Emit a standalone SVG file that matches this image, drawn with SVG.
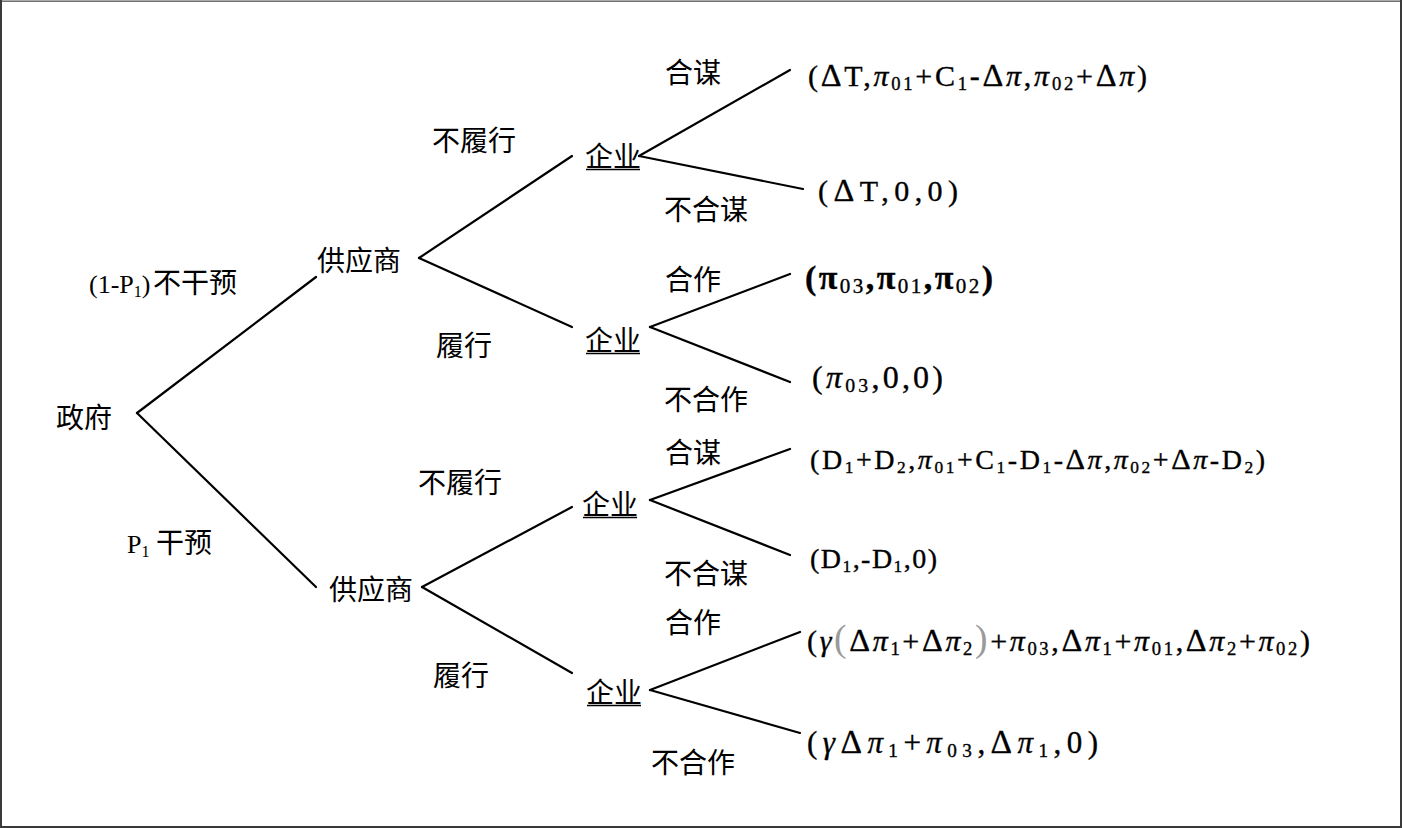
<svg xmlns="http://www.w3.org/2000/svg" width="1402" height="828" viewBox="0 0 1402 828">
<defs>
<style>
.cn{font-family:"Noto Sans CJK SC","Noto Sans CJK JP",sans-serif;font-size:28px;fill:#000}
.sr{font-family:"Liberation Serif","Times New Roman",serif;font-size:26px;fill:#000}
.pay{font-family:"Liberation Serif","Times New Roman",serif;fill:#000;stroke:#000;stroke-width:0.35}
.sb{font-size:62%;baseline-shift:-4px}
.it{font-style:italic}
.d{font-size:108%}
.edge{stroke:#000;stroke-width:2.2;stroke-linecap:round;fill:none}
.ul{stroke:#000;stroke-width:1.6}
.gp{fill:#9a9a9a;stroke:none;font-size:125%}
</style>
</defs>
<rect x="0" y="0" width="1402" height="828" fill="#fff"/>
<rect x="1" y="1" width="1400" height="826" fill="none" stroke="#3a3a3a" stroke-width="2"/>
<line x1="2" y1="0.75" x2="1400" y2="0.75" stroke="#aaa" stroke-width="1.5"/>

<g id="connectors">
<line class="edge" x1="137" y1="413" x2="316" y2="277"/>
<line class="edge" x1="137" y1="413" x2="316" y2="587"/>
<line class="edge" x1="419" y1="258" x2="572" y2="156"/>
<line class="edge" x1="419" y1="258" x2="572" y2="327"/>
<line class="edge" x1="639" y1="156" x2="790" y2="70"/>
<line class="edge" x1="639" y1="156" x2="803" y2="189"/>
<line class="edge" x1="650" y1="327" x2="790" y2="274"/>
<line class="edge" x1="650" y1="327" x2="790" y2="382"/>
<line class="edge" x1="422" y1="587" x2="572" y2="507"/>
<line class="edge" x1="422" y1="587" x2="572" y2="673"/>
<line class="edge" x1="650" y1="500" x2="790" y2="449"/>
<line class="edge" x1="650" y1="500" x2="790" y2="555"/>
<line class="edge" x1="650" y1="690" x2="800" y2="632"/>
<line class="edge" x1="650" y1="690" x2="800" y2="733"/>
</g>

<g id="edge-labels">
<text class="sr" x="89" y="293">(1-P<tspan class="sb">1</tspan>)<tspan class="cn" x="153">不干预</tspan></text>
<text class="sr" x="127" y="553">P<tspan class="sb">1</tspan><tspan class="cn" x="156">干预</tspan></text>
<text class="cn" x="432" y="151">不履行</text>
<text class="cn" x="436" y="356">履行</text>
<text class="cn" x="418" y="493">不履行</text>
<text class="cn" x="433" y="686">履行</text>
<text class="cn" x="665" y="83">合谋</text>
<text class="cn" x="664" y="220">不合谋</text>
<text class="cn" x="665" y="290">合作</text>
<text class="cn" x="664" y="410">不合作</text>
<text class="cn" x="665" y="463">合谋</text>
<text class="cn" x="664" y="584">不合谋</text>
<text class="cn" x="665" y="633">合作</text>
<text class="cn" x="651" y="773">不合作</text>
</g>

<g id="node-government"><text class="cn" x="56" y="428">政府</text></g>
<g id="node-supplier-1"><text class="cn" x="317" y="271">供应商</text></g>
<g id="node-supplier-2"><text class="cn" x="329" y="600">供应商</text></g>
<g id="node-firm-1"><text class="cn" x="585" y="167">企业</text><line class="ul" x1="586" y1="169.5" x2="640" y2="169.5"/></g>
<g id="node-firm-2"><text class="cn" x="585" y="351">企业</text><line class="ul" x1="586" y1="353.5" x2="640" y2="353.5"/></g>
<g id="node-firm-3"><text class="cn" x="582" y="515">企业</text><line class="ul" x1="583" y1="517.5" x2="637" y2="517.5"/></g>
<g id="node-firm-4"><text class="cn" x="586" y="703">企业</text><line class="ul" x1="587" y1="705.5" x2="641" y2="705.5"/></g>

<g id="payoff-1"><text class="pay" x="808" y="86" font-size="30" textLength="339" lengthAdjust="spacing">(<tspan class="d">Δ</tspan>T,<tspan class="it">π</tspan><tspan class="sb">01</tspan>+C<tspan class="sb">1</tspan>-<tspan class="d">Δ</tspan><tspan class="it">π</tspan>,<tspan class="it">π</tspan><tspan class="sb">02</tspan>+<tspan class="d">Δ</tspan><tspan class="it">π</tspan>)</text></g>
<g id="payoff-2"><text class="pay" x="818" y="201" font-size="30" textLength="140" lengthAdjust="spacing">(<tspan class="d">Δ</tspan>T,0,0)</text></g>
<g id="payoff-3"><text class="pay" x="805" y="289" font-size="34" font-weight="bold" textLength="188" lengthAdjust="spacing">(π<tspan class="sb" font-weight="normal">03</tspan>,π<tspan class="sb" font-weight="normal">01</tspan>,π<tspan class="sb" font-weight="normal">02</tspan>)</text></g>
<g id="payoff-4"><text class="pay" x="812" y="388" font-size="32" textLength="131" lengthAdjust="spacing">(<tspan class="it">π</tspan><tspan class="sb">03</tspan>,0,0)</text></g>
<g id="payoff-5"><text class="pay" x="810" y="469" font-size="28" textLength="455" lengthAdjust="spacing">(D<tspan class="sb">1</tspan>+D<tspan class="sb">2</tspan>,<tspan class="it">π</tspan><tspan class="sb">01</tspan>+C<tspan class="sb">1</tspan>-D<tspan class="sb">1</tspan>-<tspan class="d">Δ</tspan><tspan class="it">π</tspan>,<tspan class="it">π</tspan><tspan class="sb">02</tspan>+<tspan class="d">Δ</tspan><tspan class="it">π</tspan>-D<tspan class="sb">2</tspan>)</text></g>
<g id="payoff-6"><text class="pay" x="810" y="568" font-size="28" textLength="127" lengthAdjust="spacing">(D<tspan class="sb">1</tspan>,-D<tspan class="sb">1</tspan>,0)</text></g>
<g id="payoff-7"><text class="pay" x="807" y="651" font-size="30" textLength="503" lengthAdjust="spacing">(<tspan class="it">γ</tspan><tspan class="gp">(</tspan><tspan class="d">Δ</tspan><tspan class="it">π</tspan><tspan class="sb">1</tspan>+<tspan class="d">Δ</tspan><tspan class="it">π</tspan><tspan class="sb">2</tspan><tspan class="gp">)</tspan>+<tspan class="it">π</tspan><tspan class="sb">03</tspan>,<tspan class="d">Δ</tspan><tspan class="it">π</tspan><tspan class="sb">1</tspan>+<tspan class="it">π</tspan><tspan class="sb">01</tspan>,<tspan class="d">Δ</tspan><tspan class="it">π</tspan><tspan class="sb">2</tspan>+<tspan class="it">π</tspan><tspan class="sb">02</tspan>)</text></g>
<g id="payoff-8"><text class="pay" x="807" y="753" font-size="31" textLength="291" lengthAdjust="spacing">(<tspan class="it">γ</tspan><tspan class="d">Δ</tspan><tspan class="it">π</tspan><tspan class="sb">1</tspan>+<tspan class="it">π</tspan><tspan class="sb">03</tspan>,<tspan class="d">Δ</tspan><tspan class="it">π</tspan><tspan class="sb">1</tspan>,0)</text></g>
</svg>
